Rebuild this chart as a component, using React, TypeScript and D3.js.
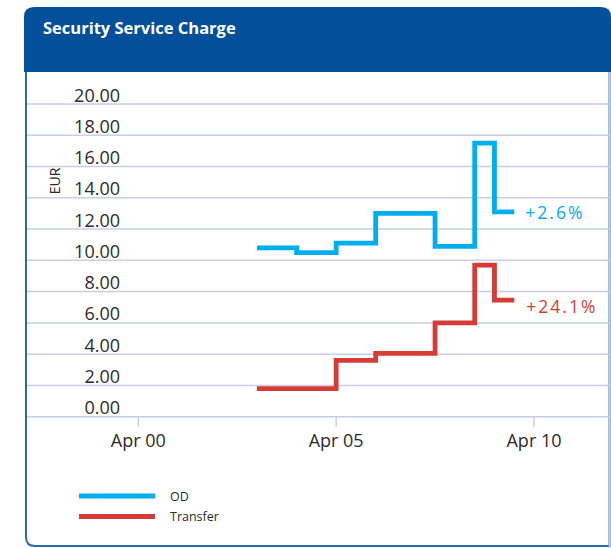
import React from 'react'
import * as d3 from 'd3'

// Values (EUR)
const parse = d3.timeParse('%Y-%m')

const odDates = ['2003-04', '2004-04', '2005-04', '2006-04', '2007-10', '2008-10', '2009-04', '2009-10']
const odValues = [10.8, 10.5, 11.1, 13.0, 10.9, 17.5, 13.1, 13.1]

const transferDates = ['2003-04', '2005-04', '2006-04', '2007-10', '2008-10', '2009-04', '2009-10']
const transferValues = [1.8, 3.6, 4.05, 6.0, 9.7, 7.45, 7.45]

const seriesNames = ['OD', 'Transfer']
const seriesColors = ['#00aeef', '#d63b36']
const changeLabels = ['+2.6%', '+24.1%']
const labelOffsets = [[11, 7.5], [12, 13]]

const yTicks = [0, 2, 4, 6, 8, 10, 12, 14, 16, 18, 20]
const xTickDates = ['2000-04', '2005-04', '2010-04']

const W = 611
const H = 548
const FONT = '"Open Sans", "DejaVu Sans", sans-serif'
const GRID = '#c9cee6'

export default function App() {
  const x = d3.scaleTime()
    .domain([parse('2000-04') as Date, parse('2010-04') as Date])
    .range([138.3, 534])
  const y = d3.scaleLinear().domain([0, 20]).range([416.7, 104])

  const line = d3.line<[Date, number]>()
    .x(d => x(d[0]))
    .y(d => y(d[1]))
    .curve(d3.curveStepAfter)

  const series = [
    odDates.map((d, i) => [parse(d) as Date, odValues[i]] as [Date, number]),
    transferDates.map((d, i) => [parse(d) as Date, transferValues[i]] as [Date, number]),
  ]

  return (
    <div style={{ position: 'absolute', left: 0, top: 0 }}>
      <svg width={W} height={H} style={{ display: 'block', fontFamily: FONT }}>
        <rect width={W} height={H} fill="#fff" />
        {/* card body */}
        <path d="M26,70 L26,537 Q26,546 35,546 L609.5,546 L609.5,70" fill="#fff" stroke="#2d68b0" strokeWidth={2} />
        <line x1={609.5} x2={609.5} y1={70} y2={548} stroke="#c9ccd8" strokeWidth={1.5} />
        {/* header */}
        <path d="M24,72 L24,17 Q24,7 34,7 L601,7 Q611,7 611,17 L611,72 Z" fill="#034f99" />
        <text x={43} y={34} fill="#fff" fontSize={16.5} fontWeight={700}>Security Service Charge</text>

        {/* grid + y labels */}
        {yTicks.map(t => (
          <g key={t}>
            <line x1={27} x2={609} y1={y(t)} y2={y(t)} stroke={GRID} strokeWidth={1.5} />
            <text x={120} y={y(t) - 2.5} textAnchor="end" fontSize={18} fill="#2b2b2b">{d3.format('.2f')(t)}</text>
          </g>
        ))}
        <text transform={`translate(60,181) rotate(-90)`} textAnchor="middle" fontSize={14} fill="#2b2b2b">EUR</text>

        {/* x axis ticks */}
        {xTickDates.map(s => {
          const d = parse(s) as Date
          return (
            <g key={s}>
              <line x1={x(d)} x2={x(d)} y1={y(0)} y2={y(0) + 10} stroke={GRID} strokeWidth={1.5} />
              <text x={x(d)} y={447} textAnchor="middle" fontSize={18} fill="#2b2b2b">{d3.timeFormat('%b %y')(d)}</text>
            </g>
          )
        })}

        {/* series */}
        {series.map((s, i) => {
          const last = s[s.length - 1]
          return (
            <g key={seriesNames[i]}>
              <path d={line(s) || ''} fill="none" stroke={seriesColors[i]} strokeWidth={4.8} strokeLinejoin="miter" />
              <text
                x={x(last[0]) + labelOffsets[i][0]}
                y={y(last[1]) + labelOffsets[i][1]}
                fontSize={17.5}
                letterSpacing={2}
                fill={seriesColors[i]}
              >{changeLabels[i]}</text>
            </g>
          )
        })}

        {/* legend */}
        {seriesNames.map((n, i) => (
          <g key={n} transform={`translate(79,${496 + i * 20.5})`}>
            <line x1={0} x2={76} y1={0} y2={0} stroke={seriesColors[i]} strokeWidth={5} />
            <text x={91} y={4.5} fontSize={12.5} fill="#2b2b2b">{n}</text>
          </g>
        ))}
      </svg>
    </div>
  )
}
